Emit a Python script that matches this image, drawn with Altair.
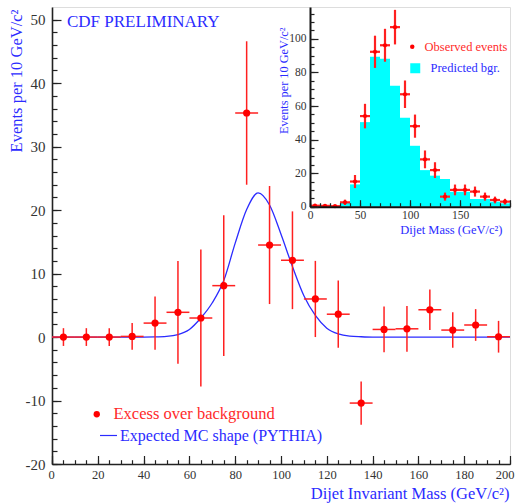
import altair as alt
import pandas as pd

# ---------------- data ----------------
mass = [5, 15, 25, 35, 45, 55, 65, 75, 85, 95, 105, 115, 125, 135, 145, 155, 165, 175, 185, 195]
excess = [0.0, 0.0, 0.0, 0.1, 2.2, 3.9, 3.0, 8.1, 35.3, 14.5, 12.1, 6.0, 3.6, -10.4, 1.2, 1.3, 4.3, 1.1, 1.9, 0.05]
excess_err = [1.4, 1.4, 1.4, 2.1, 4.2, 8.1, 10.8, 11.1, 11.3, 9.3, 7.7, 6.0, 5.3, 3.4, 3.6, 3.6, 3.2, 2.8, 2.5, 2.5]

curve_mass = [0, 40, 45, 50, 55, 60, 65, 70, 75, 80, 85, 90, 95, 100, 105, 110, 115, 120, 125, 130, 135, 140, 200]
curve_val = [0, 0, 0.02, 0.1, 0.4, 1.2, 3.0, 5.4, 8.9, 14.8, 20.1, 22.7, 20.8, 16.2, 11.1, 6.5, 3.4, 1.4, 0.5, 0.15, 0.05, 0, 0]

bgr = [0.5, 0.3, 0.3, 2.4, 13.3, 50.4, 89.3, 88.1, 72.0, 53.0, 36.3, 21.8, 18.5, 16.5, 8.9, 8.9, 4.6, 4.6, 3.0, 2.0]
obs = [0.6, 0.5, 0.3, 2.6, 15.0, 54.0, 92.3, 96.2, 107.0, 67.0, 48.0, 28.2, 21.8, 6.0, 10.0, 10.0, 9.0, 6.0, 4.0, 3.0]
obs_err = [0.7, 0.7, 0.5, 1.6, 3.9, 7.3, 9.6, 9.8, 10.3, 8.2, 6.9, 5.3, 4.7, 2.4, 3.2, 3.2, 3.0, 2.4, 2.0, 1.7]

main_ticks_major_x = list(range(0, 201, 20))
main_ticks_minor_x = list(range(0, 201, 5))
main_ticks_major_y = list(range(-20, 51, 10))
main_ticks_minor_y = list(range(-20, 51, 2))
inset_labels_x = [0, 50, 100, 150]
inset_ticks_major_x = list(range(0, 201, 50))
inset_ticks_minor_x = list(range(0, 201, 10))
inset_labels_y = list(range(0, 101, 20))
inset_ticks_minor_y = list(range(0, 119, 5))

# ---------------- layout / style ----------------
W, H = 458, 457
INX = [258, 458]        # inset x range inside plot (px)
INY = [199.7, 0]        # inset y range inside plot (px)
SERIF = "Liberation Serif"
BLUE = "#2b2bff"
RED = "#ff0000"
ERR = "#ff2020"
AX = "#222222"
LBL = "#333333"
PLAIN_NUM = "'' + datum.value"

main_df = pd.DataFrame({"m": mass, "v": excess, "e": excess_err})
curve_df = pd.DataFrame({"m": curve_mass, "v": curve_val})
inset_df = pd.DataFrame({"m": mass, "b": bgr, "o": obs, "e": obs_err})

xs = alt.Scale(domain=[0, 200], nice=False, zero=False)
ys = alt.Scale(domain=[-20, 52], nice=False, zero=False)
ixs = alt.Scale(domain=[0, 200], range=INX, nice=False, zero=False)
iys = alt.Scale(domain=[0, 119], range=INY, nice=False, zero=False)


def tick_axis(orient, values, size, offset, z=0):
    return alt.Axis(orient=orient, values=values, tickSize=size, offset=offset,
                    tickColor=AX, tickWidth=1.2, domain=False, labels=False,
                    grid=False, title=None, zindex=z)


main_base = alt.Chart(main_df).transform_calculate(
    lo="datum.v - datum.e", hi="datum.v + datum.e",
    left="datum.m - 5", right="datum.m + 5",
    lab="'Excess over background'")

# Gaussian MC shape
curve = alt.Chart(curve_df).transform_calculate(
    lab="'Expected MC shape (PYTHIA)'"
).mark_line(strokeWidth=1.3, interpolate="monotone").encode(
    x=alt.X("m:Q", scale=xs, axis=None),
    y=alt.Y("v:Q", scale=ys, axis=None),
    color=alt.Color("lab:N", scale=alt.Scale(domain=["Expected MC shape (PYTHIA)"], range=[BLUE]),
                    legend=alt.Legend(orient="none", legendX=47, legendY=419, title=None,
                                      symbolType="stroke", symbolSize=289, symbolStrokeWidth=1.2,
                                      labelFont=SERIF, labelFontSize=16, labelColor=BLUE,
                                      labelOffset=2, labelLimit=400, padding=0)),
)

vbars = main_base.mark_rule(color=ERR, strokeWidth=1.5).encode(
    x=alt.X("m:Q", scale=xs, axis=tick_axis("bottom", main_ticks_major_x, 8.5, -8.5)),
    y=alt.Y("lo:Q", scale=ys, axis=tick_axis("left", main_ticks_major_y, 9, -9)),
    y2="hi:Q",
)

hbars = main_base.mark_rule(color=ERR, strokeWidth=1.5).encode(
    x=alt.X("left:Q", scale=xs, axis=tick_axis("bottom", main_ticks_minor_x, 4.3, -4.3)),
    x2="right:Q",
    y=alt.Y("v:Q", scale=ys, axis=tick_axis("left", main_ticks_minor_y, 5, -5)),
)

points = main_base.mark_circle(size=52, opacity=1).encode(
    x=alt.X("m:Q", scale=xs, axis=alt.Axis(
        orient="bottom", values=main_ticks_major_x, ticks=False, domain=True,
        domainColor=AX, domainWidth=1.6, grid=False,
        labelFlush=True, labelFlushOffset=4,
        labelFont=SERIF, labelFontSize=12.5, labelColor=LBL, labelPadding=4,
        title="Dijet Invariant Mass (GeV/c²)", titleFont=SERIF, titleFontSize=16.5,
        titleFontWeight="normal", titleColor=BLUE, titleX=457, titleY=29,
        titleAlign="right", titleBaseline="middle")),
    y=alt.Y("v:Q", scale=ys, axis=alt.Axis(
        orient="left", values=main_ticks_major_y, ticks=False, domain=True,
        domainColor=AX, domainWidth=1.6, grid=False, labelExpr=PLAIN_NUM,
        labelFont=SERIF, labelFontSize=15, labelColor=LBL, labelPadding=7,
        title="Events per 10 GeV/c²", titleFont=SERIF, titleFontSize=16.5,
        titleFontWeight="normal", titleColor=BLUE, titleX=-36, titleY=2,
        titleAngle=270, titleAlign="right", titleBaseline="middle")),
    color=alt.Color("lab:N", scale=alt.Scale(domain=["Excess over background"], range=[RED]),
                    legend=alt.Legend(orient="none", legendX=36.5, legendY=399, title=None,
                                      symbolType="circle", symbolSize=40, symbolStrokeWidth=0,
                                      labelFont=SERIF, labelFontSize=16.5, labelColor="#ff2a2a",
                                      labelOffset=8.5, labelLimit=400, padding=0)),
)

# ---------------- inset ----------------
inset_base = alt.Chart(inset_df).transform_calculate(
    lo="datum.o - datum.e", hi="datum.o + datum.e",
    left="datum.m - 5", right="datum.m + 5", base="0",
    lab_o="'Observed events'", lab_b="'Predicted bgr.'")

hist = inset_base.mark_bar(color="#00ffff", strokeWidth=0).encode(
    x=alt.X("left:Q", scale=ixs, axis=alt.Axis(
        orient="bottom", offset=-(H - INY[0]), values=inset_labels_x, ticks=False,
        domain=True, domainColor="#111", domainWidth=2, grid=False, labelFlush=False,
        labelFont=SERIF, labelFontSize=11.5, labelColor=LBL, labelPadding=3,
        title="Dijet Mass (GeV/c²)", titleFont=SERIF, titleFontSize=12.5,
        titleFontWeight="normal", titleColor=BLUE, titleX=450, titleY=22.5,
        titleAlign="right", titleBaseline="middle", zindex=1)),
    x2="right:Q",
    y=alt.Y("b:Q", scale=iys, axis=alt.Axis(
        orient="left", offset=-INX[0], values=inset_labels_y, ticks=False,
        domain=True, domainColor="#111", domainWidth=2, grid=False,
        labelFont=SERIF, labelFontSize=11.5, labelColor=LBL, labelPadding=4,
        title="Events per 10 GeV/c²", titleFont=SERIF, titleFontSize=12.3,
        titleFontWeight="normal", titleColor=BLUE, titleX=-26.5, titleY=20,
        titleAngle=270, titleAlign="right", titleBaseline="middle", zindex=1)),
    y2="base:Q",
    color=alt.Color("lab_b:N", scale=alt.Scale(domain=["Predicted bgr."], range=["#00ffff"]),
                    legend=alt.Legend(orient="none", legendX=357, legendY=55, title=None,
                                      symbolType="square", symbolSize=100, symbolStrokeWidth=0,
                                      labelFont=SERIF, labelFontSize=12.5, labelColor=BLUE,
                                      labelOffset=9, labelLimit=300, padding=0)),
)

ivbars = inset_base.mark_rule(color=ERR, strokeWidth=2.2).encode(
    x=alt.X("m:Q", scale=ixs, axis=tick_axis("bottom", inset_ticks_major_x, 7, -(H - INY[0]) - 7, 1)),
    y=alt.Y("lo:Q", scale=iys, axis=tick_axis("left", inset_labels_y, 8, -INX[0] - 8, 1)),
    y2="hi:Q",
)

ihbars = inset_base.mark_rule(color=ERR, strokeWidth=2.2).encode(
    x=alt.X("left:Q", scale=ixs, axis=tick_axis("bottom", inset_ticks_minor_x, 4, -(H - INY[0]) - 4, 1)),
    x2="right:Q",
    y=alt.Y("o:Q", scale=iys, axis=tick_axis("left", inset_ticks_minor_y, 4, -INX[0] - 4, 1)),
)

ipoints = inset_base.mark_circle(size=18, opacity=1).encode(
    x=alt.X("m:Q", scale=ixs, axis=None),
    y=alt.Y("o:Q", scale=iys, axis=None),
    color=alt.Color("lab_o:N", scale=alt.Scale(domain=["Observed events"], range=[RED]),
                    legend=alt.Legend(orient="none", legendX=354, legendY=33.5, title=None,
                                      symbolType="circle", symbolSize=20, symbolStrokeWidth=0,
                                      labelFont=SERIF, labelFontSize=12.5, labelColor="#ff2a2a",
                                      labelOffset=6, labelLimit=300, padding=0)),
)

chart = alt.layer(
    curve, vbars, hbars, points, hist, ivbars, ihbars, ipoints
).resolve_scale(
    x="independent", y="independent", color="independent"
).properties(
    width=W, height=H,
    autosize=alt.AutoSizeParams(type="none"),
    padding={"left": 52, "top": 7, "right": 7, "bottom": 39},
    title=alt.TitleParams("CDF PRELIMINARY", anchor="start", frame="group", orient="top",
                          offset=0, dx=15, dy=32, baseline="middle", font=SERIF,
                          fontSize=17, fontWeight="normal", color=BLUE),
).configure_view(stroke=AX, strokeWidth=2).configure(background="white")

chart.save("out.html", embed_options={"renderer": "svg", "actions": False})
